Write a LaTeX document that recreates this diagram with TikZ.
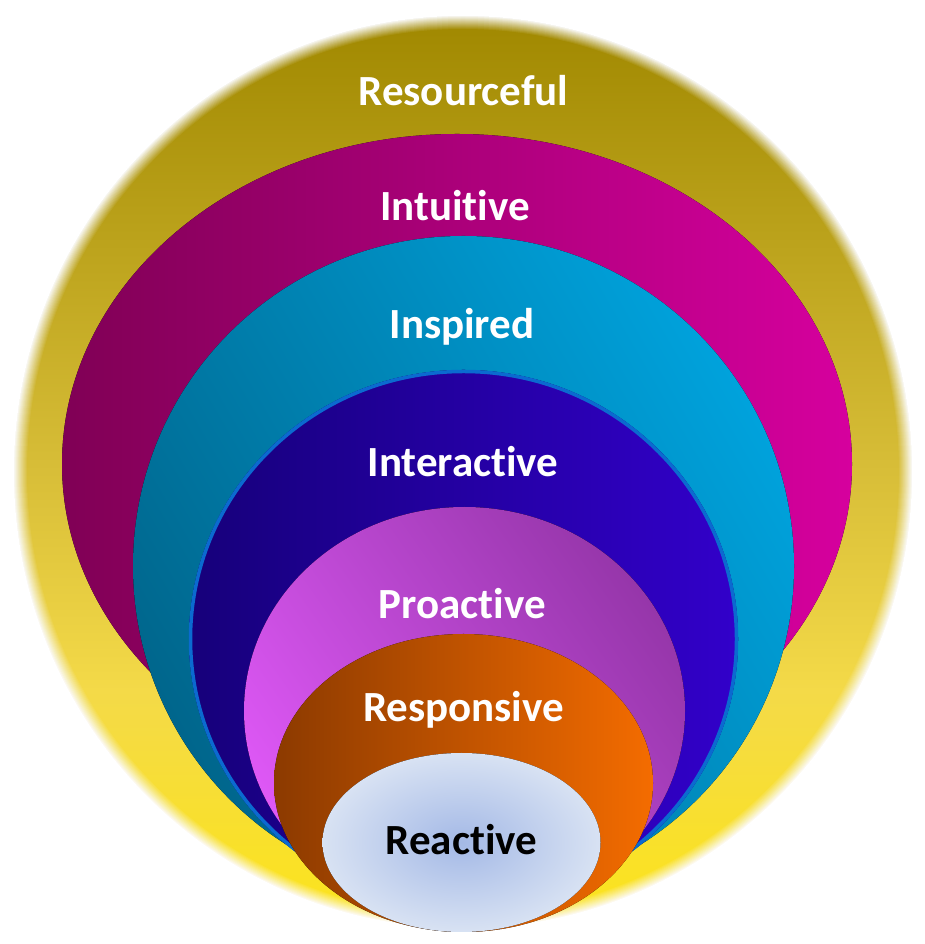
\documentclass[tikz,border=0pt]{standalone}
\usepackage{fontspec}
\setmainfont{Carlito}[Ligatures={NoCommon,NoContextual},RawFeature=-calt]
\definecolor{yTop}{HTML}{A08800}
\definecolor{yMid}{HTML}{D8BE38}
\definecolor{yLow}{HTML}{F4DA48}
\definecolor{yBot}{HTML}{FCE41A}
\definecolor{mgL}{HTML}{800055}
\definecolor{mgM}{HTML}{B6008A}
\definecolor{mgR}{HTML}{D6009E}
\definecolor{cyL}{HTML}{00668C}
\definecolor{cyR}{HTML}{00A2DC}
\definecolor{blL}{HTML}{16007A}
\definecolor{blR}{HTML}{3200CA}
\definecolor{blEdge}{HTML}{0B6AD0}
\definecolor{viL}{HTML}{DE58F6}
\definecolor{viR}{HTML}{9636AA}
\definecolor{orL}{HTML}{8C3A00}
\definecolor{orR}{HTML}{F46C00}
\definecolor{reIn}{HTML}{A4B9E6}
\definecolor{reOut}{HTML}{D8E2F3}
\pgfdeclareverticalshading{yellowdisc}{100bp}{color(0bp)=(yBot); color(25bp)=(yBot); color(38bp)=(yLow); color(50bp)=(yMid); color(75bp)=(yTop); color(100bp)=(yTop)}
\tikzset{
  lbl/.style={font=\fontsize{43}{50}\selectfont\bfseries, text=white, anchor=base, inner sep=0pt},
}
\begin{document}
\begin{tikzpicture}[x=1pt,y=1pt]
\fill[white] (0,0) rectangle (925,944);
\useasboundingbox (0,0) rectangle (925,944);
% outer yellow disc with soft edge
\fill[shading=yellowdisc] (463,472) ellipse [x radius=450pt, y radius=457pt];
\foreach \k in {1,...,14}{
  \draw[white, opacity={1/\k}, line width={2*\k*1pt}] (463,472) ellipse [x radius=450pt, y radius=457pt];
}
% magenta
\fill[left color=mgL, middle color=mgM, right color=mgR] (457,480) ellipse [x radius=395pt, y radius=330pt];
% cyan
\fill[left color=cyL, right color=cyR, shading angle=120] (463.5,378) ellipse [x radius=330.5pt, y radius=330pt];
% dark blue with light blue rim
\fill[left color=blL, right color=blR] (463.5,305) ellipse [x radius=274.5pt, y radius=269pt];
\draw[blEdge, line width=3.5pt] (463.5,305) ellipse [x radius=273pt, y radius=267.5pt];
% violet
\fill[left color=viL, right color=viR, shading angle=125] (464.5,233) ellipse [x radius=220.5pt, y radius=204pt];
% orange
\fill[left color=orL, right color=orR] (463.5,161) ellipse [x radius=189.5pt, y radius=149pt];
% reactive
\fill[inner color=reIn, outer color=reOut] (461.5,101.5) ellipse [x radius=139pt, y radius=89.5pt];
% labels
\node[lbl] (resourceful) at (463.5,838) {Resourceful};
\node[lbl] (intuitive) at (455,723) {Intuitive};
\node[lbl] (inspired) at (462,605) {Inspired};
\node[lbl] (interactive) at (463,467) {Interactive};
\node[lbl] (proactive) at (462.5,325) {Proactive};
\node[lbl] (responsive) at (463.5,222) {Responsive};
\node[lbl, text=black] (reactive) at (461.5,89) {Reactive};
\end{tikzpicture}
\end{document}
